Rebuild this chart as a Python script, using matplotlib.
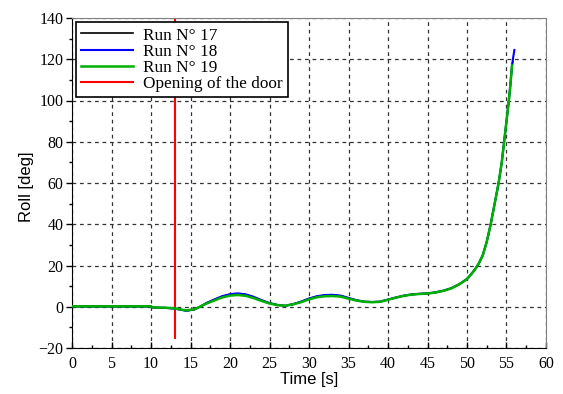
import matplotlib
matplotlib.use("Agg")
import matplotlib.pyplot as plt
import numpy as np

# Time axis samples (s) and roll values (deg)
t_common = [0, 5, 10, 10.2, 12, 13, 14.5, 15.5, 16.2, 17, 18, 19, 20, 21, 22, 23, 24, 25, 26, 27,
            28, 29, 30, 31, 32, 33, 34, 35, 36, 37, 38, 39, 40, 41, 42, 43, 44, 45, 46, 47,
            48, 49, 50, 50.5, 51, 51.5, 52, 52.5, 53, 53.5, 54, 54.4, 54.7, 55, 55.3, 55.5, 55.7]

run19 = [0.2, 0.2, 0.2, -0.3, -0.5, -0.8, -1.8, -1.2, 0.0, 1.5, 3.0, 4.5, 5.4, 5.7, 5.3, 4.2, 2.8, 1.6, 0.8, 0.5,
         1.2, 2.2, 3.6, 4.6, 5.1, 5.2, 4.9, 3.9, 3.0, 2.4, 2.2, 2.4, 3.4, 4.4, 5.3, 5.9, 6.2, 6.4, 6.9, 7.7,
         8.9, 10.8, 13.4, 15.6, 18.0, 21.0, 25, 31.5, 40, 50, 60, 70, 80, 90, 100, 108, 117]

t18 = t_common + [55.85, 56.0]
run18 = [0.2, 0.2, 0.2, -0.3, -0.6, -0.9, -2.0, -1.3, 0.0, 1.8, 3.5, 5.1, 6.1, 6.5, 6.0, 4.8, 3.2, 1.8, 0.9, 0.5,
         1.3, 2.5, 4.0, 5.1, 5.7, 5.8, 5.4, 4.3, 3.2, 2.5, 2.3, 2.5, 3.5, 4.5, 5.4, 6.0, 6.3, 6.5, 7.0, 7.8,
         9.0, 10.9, 13.5, 15.7, 18.1, 21.1, 25, 31.5, 40, 50, 60, 70, 80, 90, 100, 108, 117, 121, 124.5]

t17 = t_common + [55.8]
run17 = [0.1, 0.1, 0.1, -0.4, -0.6, -0.9, -1.9, -1.3, 0.0, 1.7, 3.4, 5.0, 6.0, 6.3, 5.9, 4.7, 3.1, 1.7, 0.8, 0.4,
         1.2, 2.4, 3.9, 5.0, 5.6, 5.7, 5.3, 4.2, 3.1, 2.4, 2.2, 2.4, 3.4, 4.4, 5.3, 5.9, 6.2, 6.4, 6.9, 7.7,
         8.9, 10.8, 13.4, 15.6, 18.0, 21.0, 25, 31.5, 40, 50, 60, 70, 80, 90, 100, 108, 117, 119]

door_t = [13, 13]
door_roll = [-15, 140]

labels = ["Run N° 17", "Run N° 18", "Run N° 19", "Opening of the door"]

fig = plt.figure(figsize=(5.63, 3.94), dpi=100)
ax = fig.add_axes([72/563, 1-348/394, 474/563, 330/394])

ax.plot(t17, run17, color="black", lw=1.2, label=labels[0], zorder=3)
ax.plot(t18, run18, color="#0000ff", lw=1.5, label=labels[1], zorder=4)
ax.plot(t_common, run19, color="#00b000", lw=1.8, label=labels[2], zorder=5)
ax.plot(door_t, door_roll, color="red", lw=1.5, label=labels[3], zorder=2)

ax.set_xlim(0, 60)
ax.set_ylim(-20, 140)
ax.set_xticks(np.arange(0, 61, 5))
ax.set_yticks(np.arange(-20, 141, 20))
ax.set_xticks(np.arange(2.5, 60, 5), minor=True)
ax.set_yticks(np.arange(-10, 140, 20), minor=True)

ax.grid(True, which="major", color="#333333", linestyle=(0, (3, 3)), linewidth=0.9)
ax.set_axisbelow(True)

ax.tick_params(axis="x", which="major", direction="in", length=4, width=1, pad=6)
ax.tick_params(axis="x", which="minor", direction="in", length=2.5, width=1)
ax.tick_params(axis="y", which="major", direction="out", length=4, width=1, pad=2)
ax.tick_params(axis="y", which="minor", direction="out", length=2.5, width=1)

for lab in ax.get_xticklabels() + ax.get_yticklabels():
    lab.set_fontfamily("Liberation Serif")
    lab.set_fontsize(11.5)

ax.spines["top"].set_color("#808080")
ax.spines["right"].set_color("#808080")
ax.spines["left"].set_color("black")
ax.spines["bottom"].set_color("black")

ax.set_xlabel("Time [s]", fontfamily="Liberation Sans", fontsize=12)
ax.set_ylabel("Roll [deg]", fontfamily="Liberation Sans", fontsize=12)
ax.xaxis.set_label_coords(0.5, -0.072)
ax.yaxis.set_label_coords(-0.08, 0.49)

leg = ax.legend(loc="upper left", prop={"family": "Liberation Serif", "size": 12.4},
                frameon=True, fancybox=False, framealpha=1, edgecolor="black",
                handlelength=3.0, handletextpad=0.6, borderpad=0.3, labelspacing=0.0,
                borderaxespad=0.25)
leg.get_frame().set_linewidth(1.2)
leg.set_zorder(10)

fig.savefig("out.png", dpi=100)
